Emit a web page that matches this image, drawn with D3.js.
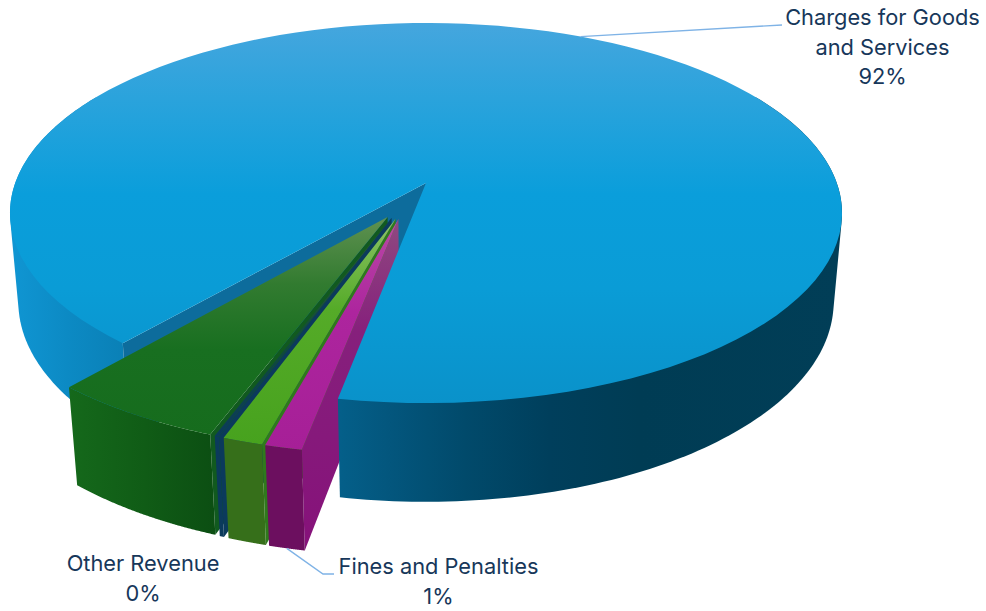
<!DOCTYPE html>
<html>
<head>
<meta charset="utf-8">
<script src="https://cdn.jsdelivr.net/npm/d3@7"></script>
<style>
  html, body { margin: 0; padding: 0; background: #fff; }
  svg { display: block; }
  text { font-family: "Inter", sans-serif; font-size: 21.8px; fill: #17375a; }
</style>
</head>
<body>
<svg id="chart" width="986" height="611"></svg>
<script>
// Revenue shares in pie order, clockwise from the left edge of the large slice.
const sliceNames = ["Charges for Goods and Services", "Fines and Penalties", "Licenses and Permits", "Other Revenue", "Grants and Contributions"];
const sliceShares = [91.65, 1.2, 1.3, 0.15, 5.7];
const labelledSlices = [
  { index: 0, lines: ["Charges for Goods", "and Services"], x: 882.5, y: 25 },
  { index: 3, lines: ["Other Revenue"], x: 143, y: 571 },
  { index: 1, lines: ["Fines and Penalties"], x: 438.5, y: 574 }
];

const svg = d3.select("#chart");
const rad = d => d * Math.PI / 180;

// Perspective projection of a unit-radius pie; z runs from the top face (0) to the base (1).
const view = { cx: 426, cy: 183, A: 410.8, B: 185.3, D: 89.5, tilt: 0.158, recede: 0.02 };
function project(u, v, z) {
  const w = 1 - view.tilt * v + view.recede * z;
  return [view.cx + view.A * u / w, view.cy + (view.B * v + view.D * z) / w];
}

const pie = d3.pie().sort(null).startAngle(rad(220.5)).endAngle(rad(580.5));
const arcs = pie(sliceShares);

// Direction (degrees from the pie's back point) and distance each slice is pulled out.
const explodeDirection = [0, 199, 201, 204, 207];
const explodeDistance = [0, 0.2, 0.2, 0.2, 0.2];
const palette = [
  { top: "url(#topMain)" },
  { top: "url(#topFines)", rim: "#6c0f5f", side: "url(#sideFines)" },
  { top: "url(#topLime)", rim: "#366f1a", side: "#2f7a1c" },
  { top: "url(#topNavy)", rim: "#0b3a5c", side: "#0b3a5c" },
  { top: "url(#topGreen)", rim: "url(#rimGreen)", side: "#115a1f" }
];

function addGradient(id, x1, y1, x2, y2, stops) {
  const g = svg.append("defs").append("linearGradient").attr("id", id)
    .attr("gradientUnits", "userSpaceOnUse")
    .attr("x1", x1).attr("y1", y1).attr("x2", x2).attr("y2", y2);
  stops.forEach(([o, c]) => g.append("stop").attr("offset", o).attr("stop-color", c));
}
addGradient("topMain", 0, 23, 0, 403, [[0, "#45a6de"], [0.2, "#2aa3dc"], [0.45, "#0a9edb"], [0.7, "#0a9cd6"], [1, "#0a92ca"]]);
addGradient("wallFront", 340, 0, 840, 0, [[0, "#045f89"], [0.1, "#03567d"], [0.25, "#014a6b"], [0.42, "#003f5c"], [0.6, "#003c54"], [1, "#013e57"]]);
addGradient("wallLeft", 10, 0, 125, 0, [[0, "#1096d3"], [0.5, "#0c8ac4"], [1, "#0a80b6"]]);
addGradient("topGreen", 0, 218, 0, 437, [[0, "#5f9150"], [0.3, "#327b30"], [0.6, "#186f20"], [1, "#166c1d"]]);
addGradient("rimGreen", 68, 0, 222, 0, [[0, "#15691b"], [0.5, "#105c16"], [1, "#0b4d12"]]);
addGradient("topLime", 0, 219, 0, 445, [[0, "#8cc266"], [0.4, "#55ab28"], [1, "#47a21e"]]);
addGradient("topFines", 0, 219, 0, 452, [[0, "#b94aa5"], [0.4, "#ad259e"], [1, "#a61f97"]]);
addGradient("sideFines", 0, 219, 0, 540, [[0, "#8f4a80"], [0.35, "#86207c"], [1, "#86127a"]]);
addGradient("topNavy", 0, 219, 0, 440, [[0, "#2c5a34"], [0.6, "#0f4a3c"], [1, "#0b3a5c"]]);

const path = d3.line();
const offsetOf = i => {
  const a = rad(explodeDirection[i]);
  return [explodeDistance[i] * Math.sin(a), -explodeDistance[i] * Math.cos(a)];
};
const rimPoint = (i, phi, z) => {
  const [ox, oy] = offsetOf(i);
  return project(ox + Math.sin(phi), oy - Math.cos(phi), z);
};
const apexPoint = (i, z) => {
  const [ox, oy] = offsetOf(i);
  return project(ox, oy, z);
};
const sweep = (i, a0, a1, z) => d3.range(0, 121).map(k => rimPoint(i, a0 + (a1 - a0) * k / 120, z));

const draw = (points, fill) => svg.append("path").attr("d", path(points) + "Z").attr("fill", fill);

function drawRim(i, a0, a1, fill) {
  draw(sweep(i, a0, a1, 0).concat(sweep(i, a1, a0, 1)), fill);
}
// A curved outer wall seen from outside: the hull keeps the straight silhouette
// edge that joins the top face to the base at the pie's widest point.
function drawOuterWall(i, a0, a1, fill) {
  draw(d3.polygonHull(sweep(i, a0, a1, 0).concat(sweep(i, a0, a1, 1))), fill);
}
function drawSide(i, phi, fill) {
  draw([apexPoint(i, 0), rimPoint(i, phi, 0), rimPoint(i, phi, 1), apexPoint(i, 1)], fill);
}
function drawTop(i, fill) {
  draw([apexPoint(i, 0)].concat(sweep(i, arcs[i].startAngle, arcs[i].endAngle, 0)), fill);
}

// The main slice's rear wall and cut face sit behind the pulled-out slices.
const main = arcs[0];
drawOuterWall(0, main.startAngle, rad(300), "url(#wallLeft)");
drawSide(0, main.startAngle, "#0d6c9c");

// Pulled-out slices, painted back to front; each shows its right cut face, rim and top.
[4, 3, 2, 1].forEach(i => {
  drawSide(i, arcs[i].startAngle, palette[i].side);
  drawRim(i, arcs[i].startAngle, arcs[i].endAngle, palette[i].rim);
  drawTop(i, palette[i].top);
});

// The main slice's front wall and top face overlap everything behind them.
drawOuterWall(0, rad(420), main.endAngle, "url(#wallFront)");
drawTop(0, palette[0].top);

// Leader lines.
const midAngle = a => (a.startAngle + a.endAngle) / 2;
const leader = pts => svg.append("path").attr("d", path(pts)).attr("fill", "none")
  .attr("stroke", "#7fb3e6").attr("stroke-width", 1.4);
leader([rimPoint(0, midAngle(arcs[0]), 0), [782, 25]]);
leader([rimPoint(1, midAngle(arcs[1]), 1), [323, 574], [334, 574]]);

// Category labels with their rounded share.
const lineStep = 29.5;
labelledSlices.forEach(s => {
  const pct = d3.format(".0f")(sliceShares[s.index]) + "%";
  const t = svg.append("text").attr("text-anchor", "middle");
  s.lines.concat([pct]).forEach((line, k) => {
    t.append("tspan").attr("x", s.x).attr("y", s.y + k * lineStep).text(line);
  });
});
</script>
</body>
</html>
